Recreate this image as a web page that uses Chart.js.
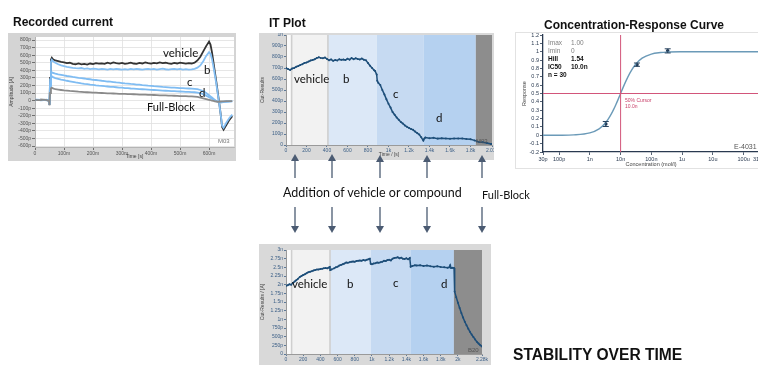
<!DOCTYPE html>
<html>
<head>
<meta charset="utf-8">
<script src="https://cdn.jsdelivr.net/npm/chart.js@4"></script>
<style>
  html, body { margin: 0; padding: 0; overflow: hidden; background: #fff; }
  body { position: relative; width: 758px; height: 365px; }
  canvas, .frame, svg { position: absolute; }
  svg { left: 0; top: 0; pointer-events: none; }
</style>
</head>
<body>
<canvas id="rec" width="228" height="128" style="left:8px;top:33px"></canvas>
<canvas id="itTop" width="235" height="127" style="left:259px;top:33px"></canvas>
<canvas id="itBottom" width="232" height="121" style="left:259px;top:244px"></canvas>
<div class="frame" style="left:515px;top:32px;width:260px;height:135px;border:1px solid #e2e2e2"></div>
<canvas id="crc" width="260" height="137" style="left:515px;top:32px"></canvas>

<svg width="758" height="365" font-family="Lato, sans-serif">
  <g font-family="Liberation Sans, Arial, sans-serif" font-weight="bold" font-size="12" fill="#111">
    <text x="13" y="26">Recorded current</text>
    <text x="269" y="27">IT Plot</text>
    <text x="544" y="29">Concentration-Response Curve</text>
    <text x="513" y="360" font-size="15.6">STABILITY OVER TIME</text>
  </g>

  <!-- recorded current labels -->
  <g font-size="11.5" fill="#111">
    <text x="163" y="57">vehicle</text>
    <text x="204" y="74">b</text>
    <text x="187" y="86">c</text>
    <text x="199" y="97">d</text>
    <text x="147" y="111" font-size="11">Full-Block</text>
  </g>
  <text x="218" y="143" font-size="6" fill="#777" font-family="Liberation Sans, Arial">M03</text>

  <!-- IT plot labels -->
  <g font-size="11.5" fill="#111">
    <text x="294" y="83">vehicle</text>
    <text x="343" y="83">b</text>
    <text x="393" y="98">c</text>
    <text x="436" y="122">d</text>
    <text x="292" y="288">vehicle</text>
    <text x="347" y="288">b</text>
    <text x="393" y="287">c</text>
    <text x="441" y="288">d</text>
  </g>
  <text x="476" y="143" font-size="6" fill="#555" font-family="Liberation Sans, Arial">M03</text>
  <text x="468" y="352" font-size="6" fill="#555" font-family="Liberation Sans, Arial">B20</text>

  <!-- arrows -->
  <g stroke="#4b5b72" stroke-width="1.3" fill="#4b5b72">
    <line x1="295" y1="160" x2="295" y2="178"/><polygon points="295,154 291,161 299,161" stroke="none"/>
    <line x1="332" y1="160" x2="332" y2="178"/><polygon points="332,154 328,161 336,161" stroke="none"/>
    <line x1="380" y1="160" x2="380" y2="178"/><polygon points="380,155 376,162 384,162" stroke="none"/>
    <line x1="427" y1="160" x2="427" y2="178"/><polygon points="427,155 423,162 431,162" stroke="none"/>
    <line x1="482" y1="160" x2="482" y2="178"/><polygon points="482,155 478,162 486,162" stroke="none"/>
    <line x1="295" y1="207" x2="295" y2="227"/><polygon points="291,226 299,226 295,233" stroke="none"/>
    <line x1="332" y1="207" x2="332" y2="227"/><polygon points="328,226 336,226 332,233" stroke="none"/>
    <line x1="380" y1="207" x2="380" y2="227"/><polygon points="376,226 384,226 380,233" stroke="none"/>
    <line x1="427" y1="207" x2="427" y2="227"/><polygon points="423,226 431,226 427,233" stroke="none"/>
    <line x1="482" y1="207" x2="482" y2="227"/><polygon points="478,226 486,226 482,233" stroke="none"/>
  </g>
  <text x="283" y="197" font-size="12.5" fill="#111">Addition of vehicle or compound</text>
  <text x="482" y="199" font-size="11" fill="#111">Full-Block</text>

  <!-- concentration-response annotations -->
  <g font-family="Liberation Sans, Arial, sans-serif" font-size="6.5">
    <text x="548" y="44.5" fill="#808080">Imax</text><text x="571" y="44.5" fill="#808080">1.00</text>
    <text x="548" y="52.5" fill="#808080">Imin</text><text x="571" y="52.5" fill="#808080">0</text>
    <text x="548" y="60.5" font-weight="bold" fill="#111">Hill</text><text x="571" y="60.5" font-weight="bold" fill="#111">1.54</text>
    <text x="548" y="68.5" font-weight="bold" fill="#111">IC50</text><text x="571" y="68.5" font-weight="bold" fill="#111">10.0n</text>
    <text x="548" y="76.5" font-weight="bold" fill="#111">n = 30</text>
    <text x="625" y="101.5" font-size="5" fill="#c8406a">50% Cursor</text>
    <text x="625" y="107.5" font-size="5" fill="#c8406a">10.0n</text>
    <text x="734" y="148.5" font-size="7" fill="#555">E-4031</text>
  </g>
</svg>

<script>
Chart.defaults.font.family = 'Liberation Sans, Arial, sans-serif';

// ---- Recorded current (time in ms, amplitude in pA) ----
const recTime = [0,10,20,30,40,48,50,52,55,58,62,70,80,90,100,110,120,130,140,150,160,170,180,190,200,210,220,230,240,250,260,270,280,290,300,310,320,330,340,350,360,370,380,390,400,410,420,430,440,450,460,470,480,490,500,510,520,530,540,550,560,570,580,590,600,605,610,615,620,625,630,635,640,645,650,660,670,680];
const recVehicle = [10,5,12,8,6,0,-60,300,540,565,545,
  530,520,510,505,495,500,485,480,490,478,485,475,490,482,495,488,492,485,500,490,505,495,488,498,485,492,500,490,485,497,490,505,495,488,498,492,505,495,500,492,485,498,490,502,495,488,496,490,
  500,530,580,650,720,780,740,640,510,380,250,110,-30,-180,-350,-385,-320,-255,-205];
const recB = [8,12,6,10,4,2,-55,280,510,540,520,
  500,480,465,455,445,440,432,428,425,430,420,425,415,422,418,412,420,415,410,418,412,420,414,408,416,410,418,412,420,414,408,415,420,412,418,410,416,422,414,408,415,420,412,418,410,415,408,412,
  420,435,465,520,590,640,620,550,450,340,220,90,-40,-180,-330,-360,-290,-230,-185];
const recC = [12,8,10,5,9,0,-50,200,350,375,365,
  355,345,340,332,325,320,312,308,300,298,292,285,282,275,272,268,262,258,252,250,245,240,236,232,228,225,220,218,212,210,205,202,198,195,190,188,185,180,178,175,172,170,168,166,164,162,160,158,
  155,152,140,125,100,70,55,40,25,10,-5,-15,-22,-25,-22,-18,-15,-12,-10];
const recD = [6,10,4,8,12,2,-45,180,300,320,310,
  298,288,278,270,262,255,248,240,235,228,222,218,212,208,202,198,195,190,186,182,180,176,172,170,166,164,160,158,155,152,150,148,145,142,140,138,135,132,130,128,126,124,122,120,118,116,114,112,
  110,105,98,85,65,45,35,25,15,5,-8,-15,-20,-20,-18,-15,-12,-10,-8];
const recFullBlock = [10,6,8,12,5,-2,-55,100,160,170,160,
  150,145,140,135,132,128,125,122,118,115,112,110,108,105,104,102,100,98,96,95,94,92,90,90,88,86,85,84,82,80,80,78,76,75,74,72,70,70,68,66,65,64,62,60,60,58,56,55,
  52,48,40,30,20,10,5,0,-5,-10,-12,-15,-15,-12,-10,-10,-8,-8,-6];
const recXTicks = [0,100,200,300,400,500,600];
const recXLabels = ['0','100m','200m','300m','400m','500m','600m'];
const recYTicks = [800,700,600,500,400,300,200,100,0,-100,-200,-300,-400,-500,-600];
const recYLabels = ['800p','700p','600p','500p','400p','300p','200p','100p','0','-100p','-200p','-300p','-400p','-500p','-600p'];

// ---- IT plot, first experiment (time in s, current in pA) ----
const itTime = [0,20,40,60,80,100,120,140,160,180,200,220,240,260,280,300,320,340,360,380,400,420,440,460,480,500,520,540,560,580,600,620,640,660,680,700,720,740,760,780,800,820,840,860,870,885,890,900,920,940,960,980,1000,1020,1040,1060,1080,1100,1120,1140,1160,1180,1200,1220,1240,1260,1280,1300,1320,1340,1350,1360,1400,1440,1480,1520,1560,1600,1640,1680,1720,1760,1800,1840,1880,1920,1960,2000,2010];
const itCurrent = [700,690,682,695,700,712,718,728,735,745,750,758,768,772,780,790,798,792,788,795,782,770,778,765,772,768,780,774,778,772,785,776,790,780,788,782,778,786,775,770,745,720,700,680,672,640,585,565,545,500,460,415,375,340,300,275,250,230,210,195,178,165,155,145,138,122,108,95,70,40,60,68,62,65,58,62,60,56,60,58,58,55,52,42,28,25,18,10,8];
const itPhaseEdges = [0,55,409,887,1345,1852,2010];
const itDividers = [55,409];
const itXTicks = [0,200,400,600,800,1000,1200,1400,1600,1800,2010];
const itXLabels = ['0','200','400','600','800','1k','1.2k','1.4k','1.6k','1.8k','2.01k'];
const itYTicks = [0,100,200,300,400,500,600,700,800,900,1000];
const itYLabels = ['0','100p','200p','300p','400p','500p','600p','700p','800p','900p','1n'];

// ---- IT plot, stability over time ----
const stTime = [0,20,40,60,80,100,120,140,160,180,200,220,240,260,280,300,320,340,360,380,400,420,440,460,480,500,510,515,530,560,580,600,620,640,660,680,700,720,740,760,780,800,820,840,860,880,900,920,940,960,975,985,1000,1020,1040,1060,1080,1100,1120,1140,1160,1180,1200,1220,1240,1260,1280,1300,1320,1340,1360,1380,1400,1420,1440,1450,1470,1500,1520,1560,1600,1640,1680,1720,1760,1800,1840,1880,1900,1910,1920,1940,1955,1962,1980,2000,2020,2040,2060,2080,2100,2120,2140,2160,2180,2200,2220,2240,2260,2280];
const stCurrent = [1970,1985,2010,2000,2050,2090,2130,2170,2220,2250,2280,2300,2330,2360,2375,2390,2410,2420,2440,2435,2455,2460,2470,2480,2470,2495,2510,2420,2440,2470,2500,2520,2550,2570,2590,2610,2640,2630,2650,2660,2670,2660,2680,2690,2700,2690,2710,2700,2720,2730,2750,2600,2590,2610,2620,2640,2630,2650,2660,2690,2680,2710,2720,2700,2750,2770,2780,2790,2760,2780,2750,2740,2760,2730,2770,2520,2540,2560,2550,2560,2540,2550,2530,2520,2530,2510,2500,2490,2500,2560,2480,2490,2480,1800,1640,1480,1330,1180,1050,930,830,730,640,560,490,420,350,300,255,215];
const stPhaseEdges = [0,65,512,985,1453,1953,2280];
const stDividers = [65,512];
const stXTicks = [0,200,400,600,800,1000,1200,1400,1600,1800,2000,2280];
const stXLabels = ['0','200','400','600','800','1k','1.2k','1.4k','1.6k','1.8k','2k','2.28k'];
const stYTicks = [0,250,500,750,1000,1250,1500,1750,2000,2250,2500,2750,3000];
const stYLabels = ['0','250p','500p','750p','1n','1.25n','1.5n','1.75n','2n','2.25n','2.5n','2.75n','3n'];

const phaseColors = ['#fbfbfb','#f2f2f2','#dce8f7','#c6daf2','#b5d1f0','#8d8d8d'];

// ---- Concentration-response ----
const crcCurveConc = [3e-11,1e-10,3e-10,1e-9,2e-9,3e-9,4e-9,5e-9,6e-9,7e-9,8e-9,1e-8,1.2e-8,1.5e-8,2e-8,3e-8,5e-8,1e-7,2e-7,3e-7,1e-6,1e-5,3.16e-4];
const crcCurveResp = [0.0001,0.0008,0.0045,0.028,0.077,0.135,0.196,0.256,0.313,0.366,0.415,0.5,0.570,0.651,0.744,0.844,0.923,0.972,0.990,0.9955,0.9992,1.0,1.0];
const crcDoseConc = [3.3e-9,3.4e-8,3.4e-7];
const crcDoseMean = [0.135,0.845,1.01];
const crcDoseErr = [0.03,0.02,0.025];
const crcCursorLevel = 0.5;
const crcIC50 = 1e-8;
const crcXTicks = [3e-11,1e-10,1e-9,1e-8,1e-7,1e-6,1e-5,1e-4,3.16e-4];
const crcXLabels = ['30p','100p','1n','10n','100n','1u','10u','100u','316u'];
const crcYTicks = [1.2,1.1,1,0.9,0.8,0.7,0.6,0.5,0.4,0.3,0.2,0.1,0,-0.1,-0.2];
const crcYLabels = ['1.2','1.1','1','0.9','0.8','0.7','0.6','0.5','0.4','0.3','0.2','0.1','0','-0.1','-0.2'];

const pairs = (xs, ys) => xs.map((x, i) => ({ x, y: ys[i] }));

function panelPlugin(o) {
    return {
        id: 'panel',
        beforeDraw(chart) {
            const { ctx, chartArea: a } = chart;
            const x = chart.scales.x;
            ctx.save();
            if (o.frame) {
                ctx.fillStyle = o.frame;
                ctx.fillRect(0, 0, chart.width, chart.height);
            }
            ctx.fillStyle = '#fff';
            ctx.fillRect(a.left, a.top, a.right - a.left, a.bottom - a.top);
            (o.edges || []).slice(0, -1).forEach((v, i) => {
                const x0 = x.getPixelForValue(v);
                const x1 = x.getPixelForValue(o.edges[i + 1]);
                ctx.fillStyle = o.colors[i];
                ctx.fillRect(x0, a.top, x1 - x0, a.bottom - a.top);
            });
            (o.lines || []).forEach((v) => {
                const px = x.getPixelForValue(v);
                ctx.strokeStyle = '#cfcfcf';
                ctx.lineWidth = 1.6;
                ctx.beginPath();
                ctx.moveTo(px, a.top);
                ctx.lineTo(px, a.bottom);
                ctx.stroke();
            });
            ctx.restore();
        },
    };
}

function axes(cfg) {
    const tickFont = { size: cfg.font || 5 };
    return {
        x: {
            type: cfg.xType || 'linear', bounds: 'data', min: cfg.xMin, max: cfg.xMax,
            afterBuildTicks: (s) => { s.ticks = cfg.xTicks.map((v) => ({ value: v })); },
            afterFit: (s) => { s.height = cfg.xH; s.paddingLeft = 0; s.paddingRight = 0; },
            ticks: { autoSkip: false, maxRotation: 0, minRotation: 0, padding: 1, font: tickFont, color: cfg.tickColor, callback: (v, i) => cfg.xLabels[i] },
            grid: { drawOnChartArea: !!cfg.gridColor, color: cfg.gridColor || '#ccc', tickColor: cfg.tickColor, tickLength: cfg.tickLen || 2, lineWidth: 0.8 },
            border: { color: cfg.borderColor, width: cfg.borderWidth || 1 },
            title: { display: !!cfg.xTitle, text: cfg.xTitle, font: { size: cfg.font || 5 }, color: '#444', padding: { top: 0, bottom: cfg.xTitlePad || 1 } },
        },
        y: {
            type: 'linear', bounds: 'data', min: cfg.yMin, max: cfg.yMax,
            afterBuildTicks: (s) => { s.ticks = cfg.yTicks.map((v) => ({ value: v })); },
            afterFit: (s) => { s.width = cfg.yW; s.paddingTop = 0; s.paddingBottom = 0; },
            ticks: { autoSkip: false, padding: 1, font: tickFont, color: cfg.tickColor, callback: (v, i) => cfg.yLabels[i] },
            grid: { drawOnChartArea: !!cfg.gridColor, color: cfg.gridColor || '#ccc', tickColor: cfg.tickColor, tickLength: cfg.tickLen || 2, lineWidth: 0.8 },
            border: { color: cfg.borderColor, width: cfg.borderWidth || 1 },
            title: { display: !!cfg.yTitle, text: cfg.yTitle, font: { size: cfg.font || 5 }, color: '#444', padding: { top: cfg.yTitlePad || 1, bottom: 0 } },
        },
    };
}

const baseOptions = (padding, scales) => ({
    responsive: false,
    animation: false,
    devicePixelRatio: 1,
    layout: { autoPadding: false, padding },
    plugins: { legend: { display: false }, tooltip: { enabled: false } },
    elements: { line: { tension: 0 } },
    scales,
});

// Recorded current
const recSeries = [
    { data: recFullBlock, color: '#8a8a8a' },
    { data: recD, color: '#7fbcf2' },
    { data: recC, color: '#7fbcf2' },
    { data: recB, color: '#86c0f4' },
    { data: recVehicle, color: '#333333' },
];
new Chart(document.getElementById('rec'), {
    type: 'line',
    data: {
        datasets: recSeries.map((s) => ({
            data: pairs(recTime, s.data), borderColor: s.color, borderWidth: 1.8, pointRadius: 0,
        })),
    },
    options: baseOptions({ left: 0, right: 2, top: 4, bottom: 0 }, axes({
        xMin: 0, xMax: 686, yMin: -613, yMax: 840, xTicks: recXTicks, xLabels: recXLabels,
        yTicks: recYTicks, yLabels: recYLabels, xH: 14, yW: 27, tickColor: '#555', tickLen: 3,
        gridColor: '#e0e0e0', borderColor: '#b5b5b5', xTitle: 'Time [s]', yTitle: 'Amplitude [A]',
    })),
    plugins: [panelPlugin({ frame: '#d4d4d4' })],
});

// IT plot
new Chart(document.getElementById('itTop'), {
    type: 'line',
    data: {
        datasets: [{
            data: pairs(itTime, itCurrent), borderColor: '#1d4e79', borderWidth: 1.5,
            pointRadius: 1, pointBackgroundColor: '#1d4e79', pointBorderWidth: 0,
        }],
    },
    options: baseOptions({ left: 0, right: 2, top: 2, bottom: 0 }, axes({
        xMin: 0, xMax: 2010, yMin: 0, yMax: 1000, xTicks: itXTicks, xLabels: itXLabels,
        yTicks: itYTicks, yLabels: itYLabels, xH: 15, yW: 27, tickColor: '#3e6188',
        borderColor: '#9a9a9a', xTitle: 'Time / [s]', yTitle: 'Cut-Results', xTitlePad: 2,
    })),
    plugins: [panelPlugin({ frame: '#d9d9d9', edges: itPhaseEdges, colors: phaseColors, lines: itDividers })],
});

// Stability over time
new Chart(document.getElementById('itBottom'), {
    type: 'line',
    data: {
        datasets: [{
            data: pairs(stTime, stCurrent), borderColor: '#1d4e79', borderWidth: 1.5,
            pointRadius: 1, pointBackgroundColor: '#1d4e79', pointBorderWidth: 0,
        }],
    },
    options: baseOptions({ left: 0, right: 9, top: 6, bottom: 0 }, axes({
        xMin: 0, xMax: 2280, yMin: 0, yMax: 3000, xTicks: stXTicks, xLabels: stXLabels,
        yTicks: stYTicks, yLabels: stYLabels, xH: 11, yW: 27, tickColor: '#3e6188',
        borderColor: '#9a9a9a', yTitle: 'Cut-Results / [A]',
    })),
    plugins: [panelPlugin({ frame: '#d9d9d9', edges: stPhaseEdges, colors: phaseColors, lines: stDividers })],
});

// Concentration-response curve
const errorBars = {
    id: 'errorBars',
    afterDatasetsDraw(chart) {
        const { ctx, scales: { x, y } } = chart;
        ctx.save();
        ctx.strokeStyle = '#2a4560';
        ctx.lineWidth = 1;
        crcDoseConc.forEach((c, i) => {
            const px = x.getPixelForValue(c);
            const top = y.getPixelForValue(crcDoseMean[i] + crcDoseErr[i]);
            const bot = y.getPixelForValue(crcDoseMean[i] - crcDoseErr[i]);
            ctx.beginPath();
            ctx.moveTo(px, top); ctx.lineTo(px, bot);
            ctx.moveTo(px - 3, top); ctx.lineTo(px + 3, top);
            ctx.moveTo(px - 3, bot); ctx.lineTo(px + 3, bot);
            ctx.stroke();
        });
        ctx.restore();
    },
};
const crcMin = crcXTicks[0];
const crcMax = crcXTicks[crcXTicks.length - 1];
new Chart(document.getElementById('crc'), {
    type: 'line',
    data: {
        datasets: [
            { data: [{ x: crcMin, y: crcCursorLevel }, { x: crcMax, y: crcCursorLevel }], borderColor: '#d2557a', borderWidth: 1, pointRadius: 0 },
            { data: [{ x: crcIC50, y: crcYTicks[crcYTicks.length - 1] }, { x: crcIC50, y: crcYTicks[0] }], borderColor: '#d2557a', borderWidth: 1, pointRadius: 0 },
            { data: pairs(crcCurveConc, crcCurveResp), borderColor: '#6b9ab8', borderWidth: 1.4, pointRadius: 0, cubicInterpolationMode: 'monotone' },
            { data: pairs(crcDoseConc, crcDoseMean), showLine: false, pointRadius: 1.8, pointBackgroundColor: '#1e3550', pointBorderColor: '#1e3550', pointBorderWidth: 0 },
        ],
    },
    options: baseOptions({ left: 0, right: 16, top: 3, bottom: 0 }, axes({
        xType: 'logarithmic', xMin: crcMin, xMax: crcMax, yMin: -0.2, yMax: 1.2,
        xTicks: crcXTicks, xLabels: crcXLabels, yTicks: crcYTicks, yLabels: crcYLabels,
        xH: 17, yW: 28, tickColor: '#2a3a50', tickLen: 3, font: 5.5, borderColor: '#2a3a50', borderWidth: 1.3,
        xTitle: 'Concentration (mol/l)', yTitle: 'Response', xTitlePad: 0, yTitlePad: 6,
    })),
    plugins: [panelPlugin({}), errorBars],
});
</script>
</body>
</html>
